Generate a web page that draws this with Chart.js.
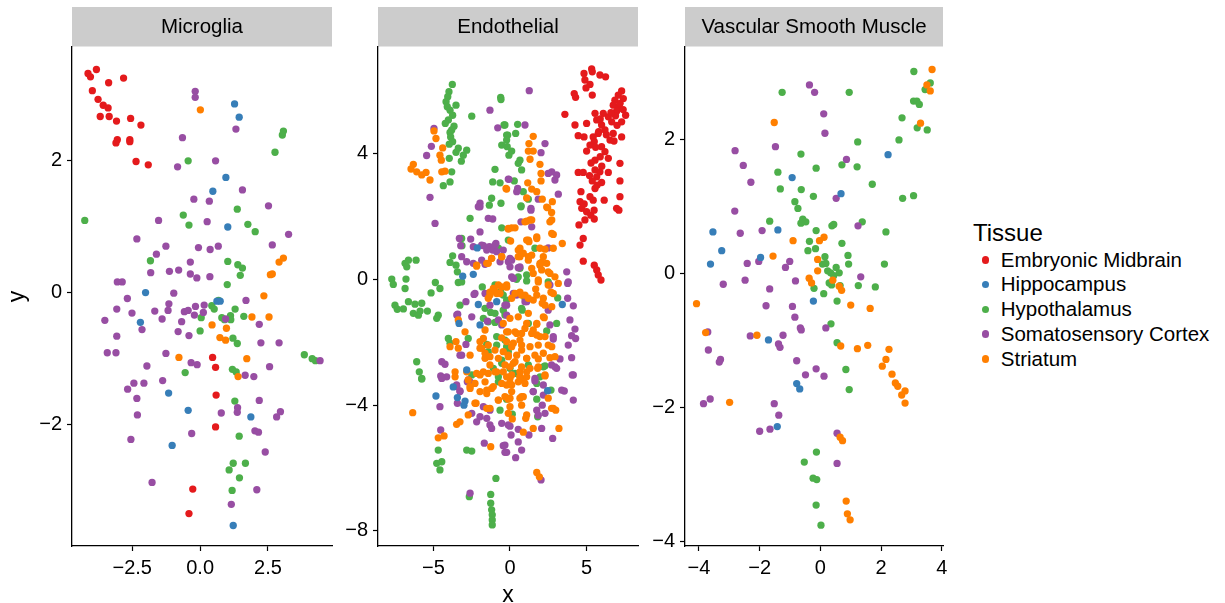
<!DOCTYPE html>
<html>
<head>
<meta charset="utf-8">
<title>Tissue by cell type</title>
<script src="https://cdn.jsdelivr.net/npm/chart.js@4.4.0/dist/chart.umd.min.js"></script>
<style>
  html, body { margin: 0; padding: 0; background: #fff; }
  body { width: 1225px; height: 603px; position: relative; overflow: hidden;
         font-family: "Liberation Sans", Arial, Helvetica, sans-serif; color: #000; }
  canvas { position: absolute; top: 0; }
  #legend { position: absolute; left: 0; top: 0; }
  .ltitle { position: absolute; left: 973px; font-size: 24px; line-height: 28px; white-space: nowrap; }
  .litem { position: absolute; left: 982px; height: 24.75px; display: flex; align-items: center;
           font-size: 20.5px; line-height: 24.75px; white-space: nowrap; }
  .ldot { width: 7.3px; height: 7.3px; border-radius: 50%; margin-right: 11.5px; }
</style>
</head>
<body>
<div id="legend"></div>
<script>
const tissues = ['Embryonic Midbrain', 'Hippocampus', 'Hypothalamus', 'Somatosensory Cortex', 'Striatum'];
const tissueColors = ['#E41A1C', '#377EB8', '#4DAF4A', '#984EA3', '#FF7F00'];
// lower = painted later (on top)
const drawOrder = [0, 1, 4, 3, 2];

// --- Microglia ---
const micMidbrain = [[-4.13,3.31],[-4.04,3.26],[-3.82,3.37],[-3.37,3.17],[-2.82,3.24],[-3.97,3.05],[-3.76,2.92],[-3.57,2.83],[-3.39,2.79],[-3.68,2.66],[-3.35,2.66],[-3.08,2.59],[-2.56,2.63],[-2.18,2.53],[-3.05,2.31],[-3.10,2.26],[-2.59,2.31],[-2.59,2.28],[-2.36,1.98],[-1.91,1.93],[0.46,-0.98],[0.57,-1.13],[0.59,-1.55],[0.57,-2.03],[-0.27,-2.97],[-0.41,-3.34]];
const micHippo = [[1.27,2.85],[1.44,2.65],[0.95,1.74],[0.47,1.53],[1.02,0.99],[-2.01,0],[-2.20,-0.45],[0.62,-0.13],[0.74,-0.13],[-1.16,-1.52],[-0.44,-1.78],[1.87,-1.88],[-1.03,-2.31],[1.22,-3.52]];
const micHypo = [[-4.25,1.09],[3.07,2.44],[3.03,2.38],[2.76,2.12],[-0.44,1.99],[1.37,1.26],[-0.62,1.17],[-0.41,1.02],[1.76,1.03],[2.03,0.92],[-1.83,0.48],[1.02,0.47],[1.39,0.42],[1.56,0.37],[1.48,0.26],[1.00,0.12],[0.68,-0.12],[0.43,-0.20],[0.52,-0.25],[0.04,-0.38],[1.29,-0.25],[0.80,-0.38],[0.90,-0.41],[1.12,-0.35],[1.13,-0.41],[1.61,-0.36],[0,-0.58],[1.21,-0.69],[1.37,-0.77],[3.84,-0.94],[4.13,-1.00],[4.25,-1.03],[-0.55,-1.21],[1.19,-1.16],[1.33,-1.20],[1.28,-1.64],[1.44,-2.17],[1.22,-2.58],[1.07,-2.68],[1.67,-2.58],[1.45,-2.80],[1.18,-2.99]];
const micCortex = [[-0.18,3.04],[-0.18,2.95],[1.32,2.47],[-0.65,2.34],[0.57,1.99],[-0.83,1.90],[1.56,1.55],[-0.23,1.41],[0.34,1.38],[2.52,1.31],[-1.53,1.09],[0.26,1.07],[3.26,0.88],[-2.33,0.81],[2.66,0.72],[-1.26,0.70],[-0.06,0.68],[0.37,0.65],[0.67,0.70],[-1.61,0.58],[-0.36,0.46],[-1.82,0.30],[-1.13,0.32],[-0.79,0.34],[-0.36,0.28],[-0.12,0.22],[0.36,0.24],[-3.05,0.16],[-2.87,0.16],[-0.97,-0.01],[-2.68,-0.09],[1.69,-0.12],[-1.15,-0.17],[-1.18,-0.27],[-0.17,-0.21],[0.15,-0.19],[-3.07,-0.25],[-2.51,-0.31],[-1.67,-0.28],[-0.58,-0.29],[-0.44,-0.27],[-0.21,-0.34],[0.12,-0.30],[-3.51,-0.42],[-1.40,-0.40],[-0.68,-0.44],[0.94,-0.40],[2.18,-0.48],[-2.14,-0.56],[-0.81,-0.59],[-0.41,-0.65],[-3.07,-0.66],[2.24,-0.76],[2.91,-0.76],[-3.42,-0.91],[-3.10,-0.91],[-1.26,-0.92],[-0.33,-1.06],[-0.11,-1.09],[-1.96,-1.11],[2.56,-1.12],[4.42,-1.03],[1.66,-1.25],[1.98,-1.27],[-2.44,-1.37],[-2.07,-1.37],[-1.38,-1.33],[-2.67,-1.46],[-2.33,-1.60],[2.18,-1.63],[1.38,-1.74],[1.37,-1.81],[0.78,-1.82],[2.96,-1.80],[2.82,-1.88],[-2.31,-1.85],[2.02,-2.09],[2.15,-2.11],[-0.31,-2.13],[-2.55,-2.22],[2.40,-2.41],[-1.77,-2.87],[2.09,-2.98],[1.15,-3.20]];
const micStriatum = [[0.01,2.76],[3.07,0.52],[2.91,0.46],[2.66,0.28],[2.59,0.27],[2.35,-0.05],[1.91,-0.37],[2.54,-0.37],[0.44,-0.49],[0.97,-0.54],[0.73,-0.68],[0.94,-0.72],[-0.78,-0.98],[1.72,-1.00],[1.40,-1.27]];
const micXTicks = [-2.5, 0, 2.5];
const micYTicks = [-2, 0, 2];

// --- Endothelial ---
const endMidbrain = [[4.84,6.55],[5.34,6.69],[5.38,6.60],[5.88,6.50],[6.25,6.44],[4.90,6.34],[5.23,6.20],[4.97,6.09],[4.20,5.91],[4.29,5.79],[5.38,5.86],[7.30,5.99],[7.08,5.86],[6.86,5.70],[7.41,5.75],[6.75,5.54],[7.12,5.49],[7.56,5.22],[6.97,5.35],[7.30,5.01],[6.65,5.01],[6.43,5.17],[6.10,5.28],[5.56,5.28],[3.59,5.25],[4.25,4.91],[5.01,4.96],[5.67,5.07],[5.99,4.91],[6.21,4.75],[5.77,4.64],[5.44,4.53],[6.75,4.64],[7.30,4.53],[6.54,4.43],[4.46,4.57],[4.84,4.53],[5.51,4.38],[5.23,4.27],[5.99,4.22],[5.01,4.08],[6.21,4.06],[6.43,3.85],[5.56,3.79],[7.19,3.69],[4.46,3.40],[4.79,3.40],[5.56,3.48],[5.88,3.42],[5.67,3.26],[6.43,3.40],[5.38,3.13],[5.99,3.08],[7.19,3.13],[4.64,2.79],[5.56,2.89],[5.23,2.63],[5.44,2.52],[6.16,2.52],[7.19,2.63],[4.58,2.47],[6.97,2.26],[4.69,2.26],[5.01,2.15],[5.29,2.04],[5.51,1.92],[4.90,1.89],[4.51,1.73],[4.79,1.30],[4.58,1.09],[4.79,0.58],[5.51,0.45],[5.67,0.30],[5.77,0.14],[5.95,-0.02],[7.12,2.20],[6.90,5.20],[7.20,5.60],[7.00,4.90],[6.60,5.30],[5.80,4.70],[6.30,4.60],[5.60,4.20],[5.30,3.70],[5.90,3.90],[5.70,3.00],[6.00,3.60],[7.40,5.40],[6.80,4.40],[5.20,3.30],[5.50,2.20],[4.85,2.40],[5.90,5.10]];
const endHippo = [[-3.09,0.10],[-2.40,0.16],[-2.14,1.00],[-2.07,-0.80],[-0.87,-0.71],[-3.33,-1.40],[-2.83,-2.88],[3.42,-0.80],[-4.84,-3.71],[-3.71,-3.42],[-3.44,-3.76],[-2.94,-3.87],[-3.01,-4.00],[2.46,-3.54],[-1.96,-1.45]];
const endHypo = [[-3.77,6.20],[-3.99,5.97],[-4.07,5.81],[-4.18,5.65],[-4.10,5.49],[-3.53,5.54],[-3.92,5.38],[-3.75,5.22],[-4.03,5.07],[-4.23,4.96],[-3.66,4.87],[-3.81,4.75],[-3.92,4.67],[-3.88,4.53],[-3.75,4.38],[-3.97,4.30],[-3.38,4.17],[-2.83,4.11],[-3.05,3.95],[-3.53,4.04],[-3.97,3.85],[-3.18,3.76],[-3.81,3.42],[-3.92,3.10],[-4.36,2.98],[-2.50,5.19],[-0.61,5.79],[-0.59,5.72],[-0.39,4.91],[-0.22,4.59],[-0.54,4.27],[-0.18,4.22],[-0.98,3.50],[-1.13,3.10],[-0.65,3.07],[-1.20,2.58],[-1.35,2.36],[-0.59,2.42],
  [-0.33,4.91],[0.50,4.93],[0.37,4.64],[-0.15,4.59],[-0.22,4.43],[0.11,4.08],[-0.07,3.95],[0.65,3.79],[0.54,3.69],[0.76,3.48],[0.28,3.13],[0.87,2.79],[1.20,2.55],[0.72,2.31],
  [-6.86,0.51],[-6.64,0.61],[-6.14,0.61],[-6.75,0.40],[-7.73,0.01],[-7.63,-0.16],[-6.80,0.01],[-6.86,-0.29],[-4.88,-0.10],[-4.58,-0.29],[-5.16,-0.43],[-6.64,-0.71],[-7.52,-0.82],[-7.37,-0.95],[-6.97,-0.94],[-6.21,-0.79],[-5.77,-0.76],[-5.88,-1.01],[-6.32,-1.08],[-5.99,-1.14],[-5.40,-1.01],[-4.69,-1.14],[-4.79,-1.24],[-3.92,0.54],[-3.53,0.45],[-3.44,0.24],[-2.61,1.94],[-3.75,0.75],[-3.38,-0.10],[-3.14,1.07],[-0.54,1.64],[-0.11,1.25],[-0.76,0.99],[-1.81,-0.24],[-0.61,-0.39],[-1.63,-0.92],[-1.26,-1.05],[-0.98,-1.37],[-0.44,-0.98],[-4.03,-1.88],[-3.92,-2.03],[-6.10,-2.62],[-5.93,-2.94],[-5.77,-3.15],[-0.87,-2.09],[-1.52,-2.07],[-1.42,-2.30],[-0.54,-2.57],[-0.11,-2.30],[-1.09,-2.83],[-2.50,-3.04],[-2.73,-1.88],
  [0.72,2.34],[1.63,0.99],[1.09,0.14],[0.54,0.08],[0.65,0.35],[2.50,-0.08],[3.12,-0.59],[0.80,-0.98],[3.05,-1.40],[2.40,-1.64],[2.29,-2.75],[1.20,-2.72],[-0.22,-2.14],[0.33,-2.99],
  [-5.77,-3.17],[-4.69,-5.43],[-2.83,-5.43],[-2.50,-5.46],[-4.79,-5.85],[-4.46,-5.80],[-4.58,-6.06],[-0.92,-6.33],[-1.26,-6.84],[-2.66,-6.91],[-1.26,-7.12],[-1.20,-7.33],[-1.16,-7.49],[-1.16,-7.65],[-1.16,-7.81],[-0.76,-3.26],[-0.65,-4.16],[-0.22,-3.78],
  [1.75,-3.81],[0.15,-4.29],[1.81,-4.37],[2.68,-3.52],[-0.22,-3.81],
  [-0.98,-1.08],[-1.42,-1.35],[-0.33,-1.13],[0.76,-0.92],[1.20,-1.40],[-0.87,-1.82],[-0.33,-1.93],[-0.54,-2.67],[0,-2.83],[-0.76,-3.10],[1.75,-3.31],[2.18,-2.78],[-0.22,-3.78],[-3.27,-0.82],[1.96,-3.10],[-1.74,-1.24],
  [-3.16,1.30],[-3.16,-0.08],[0.43,0.00],[1.09,-0.05],[-0.44,-0.50],[-0.22,-0.66],[0.98,-0.60],[-0.98,-0.18]];
const endCortex = [[-4.97,4.80],[-5.14,4.23],[-5.45,3.94],[-5.23,2.61],[-1.31,5.38],[-0.80,4.82],[-0.11,3.19],[-1.96,2.42],[-2.07,2.31],
  [1.26,6.00],[0.98,4.91],[2.29,4.32],[2.03,4.03],[2.73,3.42],[3.05,3.32],[2.94,3.16],[2.50,3.37],[3.16,2.71],[-0.07,3.18],[0.50,2.89],[0.44,2.79],[1.85,2.55],[1.37,2.26],
  [-4.90,1.78],[-1.42,1.94],[-1.13,1.92],[-1.96,2.31],[-3.31,1.30],[-3.22,1.07],[-2.57,1.28],[-3.16,0.72],[-1.74,1.07],[-1.35,1.04],[-0.92,1.14],[-1.13,0.93],[-2.40,0.51],[-1.63,0.48],[-0.11,0.56],[-2.35,-0.48],[-1.63,-0.45],[-0.22,-0.82],[-2.88,-0.71],[-3.42,-1.11],[-2.50,-1.19],[-1.48,-1.33],[-0.76,-1.29],[-0.54,-1.45],[-0.22,-1.14],[-2.88,-2.07],[-3.16,-2.41],[-4.46,-2.62],[-4.25,-2.70],[-4.53,-3.07],[-4.14,-3.10],[-2.61,-3.26],
  [1.37,2.20],[0.72,1.83],[1.42,1.67],[2.50,1.00],[3.71,0.24],[3.77,-0.13],[3.77,-0.60],[4.14,-0.84],[2.50,-0.98],[1.09,-0.71],[0.22,-0.45],[0.11,0.61],[0,0.40],[0.54,0.37],[0.11,0.08],[3.92,-1.29],[4.25,-1.58],[4.03,-1.79],[4.29,-1.88],[3.81,-2.09],[2.83,-1.90],[2.61,-1.45],[4.03,-2.49],[3.27,-2.53],[2.72,-2.72],[3.05,-2.83],[4.14,-3.04],[1.63,-3.15],[-0.33,-0.82],
  [-4.58,-4.05],[-4.46,-3.15],[-3.49,-3.36],[-3.27,-3.55],[-3.44,-3.94],[-2.79,-3.26],[-1.74,-4.05],[-1.96,-4.37],[-1.52,-4.42],[-2.18,-4.53],[-1.31,-4.63],[-0.54,-4.58],[-1.20,-4.74],[-0.11,-4.63],[-1.68,-5.21],[-0.44,-5.29],[-0.33,-5.50],[-4.53,-4.79],[-2.61,-6.80],
  [1.63,-3.23],[2.18,-3.36],[1.52,-3.57],[2.11,-4.00],[1.75,-4.16],[1.85,-4.32],[4.14,-3.84],[3.55,-3.55],[4.07,-3.04],[0,-4.67],[0.54,-4.77],[0.07,-4.95],[1.24,-4.95],[2.07,-4.74],[2.79,-5.06],[0.54,-5.17],[0.76,-5.43],[-0.22,-5.50],[0.37,-5.67],[-0.33,-5.27],[2.03,-6.38],
  [-3.48,-1.13],[-1.31,-0.82],[0.98,-0.71],[2.83,-1.82],[-3.27,-2.41],[2.94,-2.78],[-2.72,-3.20],[-3.48,-3.41],[-3.27,-3.57],[1.52,-3.57],[2.18,-3.68],[3.38,-3.52],[-2.50,-4.26],[2.29,-4.26],[-1.31,-4.16],
  [-1.96,1.51],[-1.85,1.09],[-0.98,1.09],[-2.40,1.04],[-1.52,0.93],[-0.87,0.88],[0,0.67],[-0.65,0.56],[-0.44,0.93],[-1.85,0.61],[-2.83,0.56],[0.65,0.40],[0.22,0.03],[2.61,-0.18],[3.81,-0.08],[-2.29,-0.45],[0.43,-0.50]];
const endStriatum = [[-4.97,4.72],[-4.84,4.48],[-4.40,4.18],[-4.58,3.95],[-4.49,3.79],[-6.32,3.66],[-6.47,3.51],[-6.10,3.42],[-5.77,3.32],[-5.49,3.40],[-5.23,3.16],[-4.46,3.42],[-4.25,3.44],[-0.26,2.89],
  [1.52,4.55],[1.24,4.32],[1.20,4.08],[1.52,4.08],[1.31,3.82],[1.96,3.66],[2.03,3.37],[2.03,3.13],[1.16,3.07],[1.42,2.87],[1.75,2.79],[-0.22,2.87],[1.09,2.59],[2.11,2.55],[2.77,2.47],[2.40,2.30],
  [-2.18,0.42],[-1.20,0.67],[-0.54,0.72],[-1.42,0.51],[-1.31,-0.41],[-0.98,-0.37],[-0.65,-0.45],[-0.22,-0.24],[-0.76,-0.18],[-2.94,-1.67],[-1.63,-1.61],[-3.92,-2.14],[-3.53,-1.98],[-3.38,-2.19],[-1.96,-1.98],[-1.74,-1.88],[-2.61,-2.41],[-3.59,-2.94],[-1.63,-2.51],[-1.31,-2.72],[-1.74,-2.94],[-0.87,-2.94],[-2.18,-2.99],[-0.54,-1.86],[-0.22,-1.67],[-1.96,-2.19],[-1.63,-2.35],
  [2.46,2.28],[2.72,2.13],[2.61,1.83],[2.83,1.43],[3.42,1.14],[1.42,1.89],[1.09,1.85],[0.11,1.64],[-0.11,1.60],[1.09,1.25],[1.75,1.35],[1.24,1.20],[2.29,0.96],[0.54,0.93],[0.87,0.83],[1.42,0.77],[2.07,0.54],[0.65,0.72],[1.20,0.61],[1.96,0.45],[2.50,0.24],[1.52,0.19],[2.94,0.08],[1.85,-0.08],[2.50,-0.18],[2.68,-0.41],[1.68,-0.31],[0.65,-0.41],[0.98,-0.50],[2.11,-0.76],[1.52,-0.66],[-0.22,-0.24],[0.11,-0.60],[2.24,-1.22],[1.20,-1.08],[0.54,-1.19],[0,-1.24],[1.75,-1.43],[1.09,-1.40],[0.76,-1.72],[0.33,-1.67],[1.42,-1.72],[1.96,-1.82],[2.50,-2.09],[0.76,-2.09],[0.22,-2.03],[-0.11,-2.41],[1.09,-2.51],[1.85,-2.53],[2.61,-2.49],[0.33,-2.62],[0,-2.78],[0.65,-2.94],[1.81,-2.83],[2.29,-3.04],[0.87,-3.20],[-0.22,-3.10],[-0.22,-1.98],
  [-6.36,-4.24],[-3.49,-4.61],[-3.27,-4.53],[-2.73,-4.31],[-4.69,-5.04],[-4.31,-4.98],[-2.22,-3.94],[-2.61,-3.47],[-1.96,-3.57],[-1.52,-3.63],[-1.20,-3.47],[-0.76,-3.84],[-0.11,-3.81],[-1.31,-4.10],[-1.26,-5.32],[-3.59,-3.10],[-2.73,-3.20],[-0.22,-3.36],
  [0,-3.15],[0.65,-3.10],[1.09,-3.10],[0.11,-3.36],[0,-3.78],[0.65,-3.78],[0.76,-4.00],[0.87,-3.73],[2.50,-3.78],[2.72,-4.10],[2.99,-4.16],[0.15,-4.44],[1.03,-4.42],[1.52,-4.74],[0.87,-4.86],[3.20,-4.74],[1.75,-6.14],[1.92,-6.28],[2.29,-3.07],
  [-0.44,-1.40],[-0.11,-1.67],[0.44,-1.72],[0.65,-1.93],[0.98,-1.56],[1.52,-1.61],[1.75,-1.77],[2.29,-1.82],[1.85,-2.09],[1.31,-2.14],[0.76,-2.25],[0.11,-2.14],[-0.44,-2.30],[-0.98,-2.25],[-1.42,-2.09],[-1.85,-2.19],[-1.31,-2.46],[-0.76,-2.51],[-0.11,-2.46],[0.44,-2.41],[1.09,-2.51],[1.63,-2.41],[2.18,-2.35],[2.73,-2.14],[2.94,-2.46],[-0.33,-2.72],[0.22,-2.67],[0.76,-2.78],[1.31,-2.83],[1.85,-2.78],[-0.44,-2.94],[0.11,-3.04],[0.65,-3.10],[1.09,-2.94],[-0.98,-2.94],[-1.42,-2.99],[-1.96,-3.04],[-2.29,-3.31],[-1.63,-3.26],[-1.09,-3.41],[-0.54,-3.31],[0,-3.31],[0.54,-3.26],[0.98,-3.31],[0.11,-3.57],[0.76,-3.73],[-0.33,-3.73],[-0.76,-3.84],[-1.52,-3.52],[-2.29,-3.94],[-1.52,-4.10],[0,-4.05],[-2.83,-2.94],[-2.61,-3.41],[2.83,-4.10],[1.09,-4.31],[2.29,-0.82],[2.18,-1.19],[1.75,-1.40],[-3.38,-1.29],[-0.11,-4.26],[2.73,-0.87],
  [1.31,1.89],[0.98,1.83],[2.73,1.89],[-0.11,1.62],[0.33,1.64],[2.73,1.46],[1.20,1.25],[1.75,1.30],[0.04,1.22],[0.65,0.99],[0.54,0.72],[1.20,0.72],[1.96,0.99],[2.18,0.72],[2.40,0.51],[1.96,0.51],[2.83,0.99],[-1.20,0.67],[-1.52,0.51],[-2.18,0.45],[-0.54,0.72],[1.42,0.35],[2.07,0.30],[2.61,0.19],[1.85,-0.02],[-1.09,-0.29],[-0.54,-0.24],[-1.31,-0.50],[-0.87,-0.45],[-0.22,-0.18],[0.33,-0.45],[0.76,-0.50],[-1.42,-0.60],[1.75,-0.50],[2.18,-0.60],[2.83,-0.45],[3.16,-0.13],[1.20,-0.60]];
const endXTicks = [-5, 0, 5];
const endYTicks = [-8, -4, 0, 4];

// --- Vascular Smooth Muscle ---
const vsmMidbrain = [];
const vsmHippo = [[2.23,1.77],[-0.93,1.43],[0.68,1.19],[-3.54,0.62],[-1.40,0.65],[-3.25,0.34],[-3.62,0.14],[-1.97,0.24],[-0.23,-0.41],[-1.71,-0.99],[-0.78,-1.64],[-0.68,-1.72],[-1.42,-2.28]];
const vsmHypo = [[3.08,3.01],[3.62,2.84],[3.45,2.74],[3.07,2.57],[3.18,2.57],[3.26,2.52],[-1.26,2.70],[0.95,2.70],[2.69,2.32],[3.19,2.17],[3.52,2.14],[2.59,1.99],[1.23,1.96],[-0.64,1.78],[0.71,1.62],[1.21,1.59],[-0.14,1.57],[-1.40,1.51],[1.71,1.33],[-1.32,1.26],[-0.63,1.25],[-0.23,1.15],[2.71,1.12],[3.07,1.16],[-0.84,1.07],[-0.74,0.97],[-0.58,0.81],[-0.48,0.77],[-0.64,0.75],[-1.67,0.78],[0.38,0.71],[0.44,0.73],[1.38,0.77],[-0.14,0.64],[2.16,0.62],[-0.36,0.48],[0.71,0.45],[-0.41,0.34],[-0.16,0.37],[0.91,0.27],[0.15,0.25],[0.07,0.14],[0.18,0.15],[0.93,0.14],[2.11,0.14],[0.24,0.04],[0.34,0.01],[0.52,0.09],[0.44,-0.03],[0.62,0.01],[0.29,-0.14],[0.65,-0.18],[0.37,-0.17],[1.25,-0.18],[1.81,-0.20],[-0.21,-0.22],[0.11,-0.30],[0.55,-0.41],[0.35,-0.75],[0.55,-1.03],[0.84,-1.43],[0.95,-1.73],[-0.13,-2.66],[-0.53,-2.81],[-0.24,-3.05],[-0.12,-3.07],[-0.14,-3.45],[0.02,-3.75]];
const vsmCortex = [[-0.36,2.81],[-0.19,2.70],[0.11,2.38],[0.15,2.09],[-1.48,1.89],[-2.81,1.83],[0.86,1.70],[-2.54,1.61],[-2.29,1.36],[0.52,1.12],[-2.82,0.93],[-2.64,0.60],[-1.92,0.64],[1.24,0.71],[-2.03,0.18],[-2.41,0.15],[-1.01,0.18],[-1.15,0.09],[-3.20,-0.16],[-2.48,-0.10],[-0.82,-0.11],[1.33,-0.05],[-1.67,-0.23],[-1.79,-0.48],[-0.92,-0.49],[-0.84,-0.65],[-0.66,-0.81],[-0.63,-0.84],[0.18,-0.81],[-3.71,-0.87],[-2.31,-0.93],[-1.23,-0.92],[-1.38,-1.05],[-1.33,-1.10],[-3.69,-1.14],[-3.29,-1.28],[-3.33,-1.32],[-0.78,-1.30],[-0.14,-1.42],[0.12,-1.53],[-0.49,-1.51],[-3.63,-1.87],[-3.85,-1.94],[-1.52,-1.94],[-1.37,-2.11],[-2.00,-2.35],[-1.66,-2.32],[0.55,-2.38],[0.55,-2.83]];
const vsmStriatum = [[3.68,3.04],[3.51,2.81],[3.62,2.72],[3.30,2.24],[-1.52,2.25],[-0.90,0.49],[-0.03,0.49],[0.12,0.54],[-1.56,0.26],[-0.09,0.21],[-0.09,0.04],[-0.37,-0.07],[-0.29,-0.14],[0.41,-0.10],[0.62,-0.19],[0.70,-0.25],[-4.08,-0.45],[1.00,-0.47],[1.64,-0.52],[-3.78,-0.88],[-2.09,-0.92],[0.67,-1.08],[1.22,-1.12],[1.56,-1.07],[2.26,-1.13],[2.16,-1.28],[2.04,-1.38],[2.36,-1.50],[2.47,-1.63],[2.55,-1.68],[2.79,-1.75],[2.68,-1.81],[2.79,-1.93],[-2.99,-1.92],[0.65,-2.44],[0.73,-2.49],[0.85,-3.39],[0.89,-3.58],[0.98,-3.67]];
const vsmXTicks = [-4, -2, 0, 2, 4];
const vsmYTicks = [-4, -2, 0, 2];

const FONT = '"Liberation Sans", Arial, Helvetica, sans-serif';
Chart.defaults.font.family = FONT;
Chart.defaults.color = '#000';

const signed = (v, digits) => (v < 0 ? '\u2212' : '') + (digits ? Math.abs(v).toFixed(digits) : String(Math.abs(v)));

// grey facet strip above each panel
const stripPlugin = {
  id: 'strip',
  beforeDraw(chart, args, opts) {
    const { ctx, chartArea } = chart;
    ctx.save();
    ctx.fillStyle = '#cccccc';
    ctx.fillRect(chartArea.left, 7, chartArea.right - chartArea.left, 39.5);
    ctx.fillStyle = '#000';
    ctx.font = '20.5px ' + FONT;
    ctx.textAlign = 'center';
    ctx.textBaseline = 'middle';
    ctx.fillText(opts.text, (chartArea.left + chartArea.right) / 2, 27.5);
    ctx.restore();
  }
};

const panels = [
  { title: 'Microglia', left: 72, right: 332, yWidth: 72,
    x: [-4.72, 4.86], y: [-3.83, 3.71], xTicks: micXTicks, yTicks: micYTicks, xDigits: 1,
    series: [micMidbrain, micHippo, micHypo, micCortex, micStriatum], yTitle: 'y' },
  { title: 'Endothelial', left: 378, right: 638, yWidth: 60,
    x: [-8.63, 8.37], y: [-8.48, 7.39], xTicks: endXTicks, yTicks: endYTicks, xDigits: 0,
    series: [endMidbrain, endHippo, endHypo, endCortex, endStriatum], xTitle: 'x' },
  { title: 'Vascular Smooth Muscle', left: 685, right: 943, yWidth: 60,
    x: [-4.46, 4.04], y: [-4.06, 3.375], xTicks: vsmXTicks, yTicks: vsmYTicks, xDigits: 0,
    series: [vsmMidbrain, vsmHippo, vsmHypo, vsmCortex, vsmStriatum] }
];

const axisLine = { display: true, color: '#000', width: 1.3 };
const tickMarks = { display: true, drawOnChartArea: false, drawTicks: true, tickLength: 5, tickColor: '#000', tickWidth: 1.2 };

panels.forEach(p => {
  const padRight = 25;
  const canvas = document.createElement('canvas');
  canvas.width = p.yWidth + (p.right - p.left) + padRight;
  canvas.height = 603;
  canvas.style.left = (p.left - p.yWidth) + 'px';
  document.body.appendChild(canvas);

  new Chart(canvas, {
    type: 'scatter',
    data: {
      datasets: tissues.map((name, i) => ({
        label: name,
        data: p.series[i].map(([x, y]) => ({ x, y })),
        backgroundColor: tissueColors[i],
        pointRadius: 3.65,
        pointBorderWidth: 0,
        order: drawOrder[i]
      }))
    },
    options: {
      responsive: false,
      animation: false,
      events: [],
      layout: { padding: { top: 47, right: padRight, left: 0, bottom: 0 } },
      plugins: { legend: { display: false }, tooltip: { enabled: false }, strip: { text: p.title } },
      scales: {
        x: {
          type: 'linear', min: p.x[0], max: p.x[1],
          afterBuildTicks: s => { s.ticks = p.xTicks.map(v => ({ value: v })); },
          afterFit: s => { s.height = 57; },
          border: axisLine, grid: tickMarks,
          ticks: { color: '#000', font: { size: 20 }, padding: 5, maxRotation: 0, autoSkip: false,
                   callback: v => signed(v, p.xDigits) },
          title: { display: !!p.xTitle, text: p.xTitle || '', color: '#000', font: { size: 23 },
                   padding: { top: 0, bottom: -6 } }
        },
        y: {
          type: 'linear', min: p.y[0], max: p.y[1],
          afterBuildTicks: s => { s.ticks = p.yTicks.map(v => ({ value: v })); },
          afterFit: s => { s.width = p.yWidth; },
          border: axisLine, grid: tickMarks,
          ticks: { color: '#000', font: { size: 20 }, padding: 5, autoSkip: false,
                   callback: v => signed(v, 0) },
          title: { display: !!p.yTitle, text: p.yTitle || '', color: '#000', font: { size: 23 },
                   padding: { top: 4, bottom: 0 } }
        }
      }
    },
    plugins: [stripPlugin]
  });
});

// legend on the right
const legend = document.getElementById('legend');
const head = document.createElement('div');
head.className = 'ltitle';
head.style.top = '218.5px';
head.textContent = 'Tissue';
legend.appendChild(head);
tissues.forEach((name, i) => {
  const row = document.createElement('div');
  row.className = 'litem';
  row.style.top = (247.5 + i * 24.75) + 'px';
  const dot = document.createElement('span');
  dot.className = 'ldot';
  dot.style.background = tissueColors[i];
  row.appendChild(dot);
  row.appendChild(document.createTextNode(name));
  legend.appendChild(row);
});
</script>
</body>
</html>
